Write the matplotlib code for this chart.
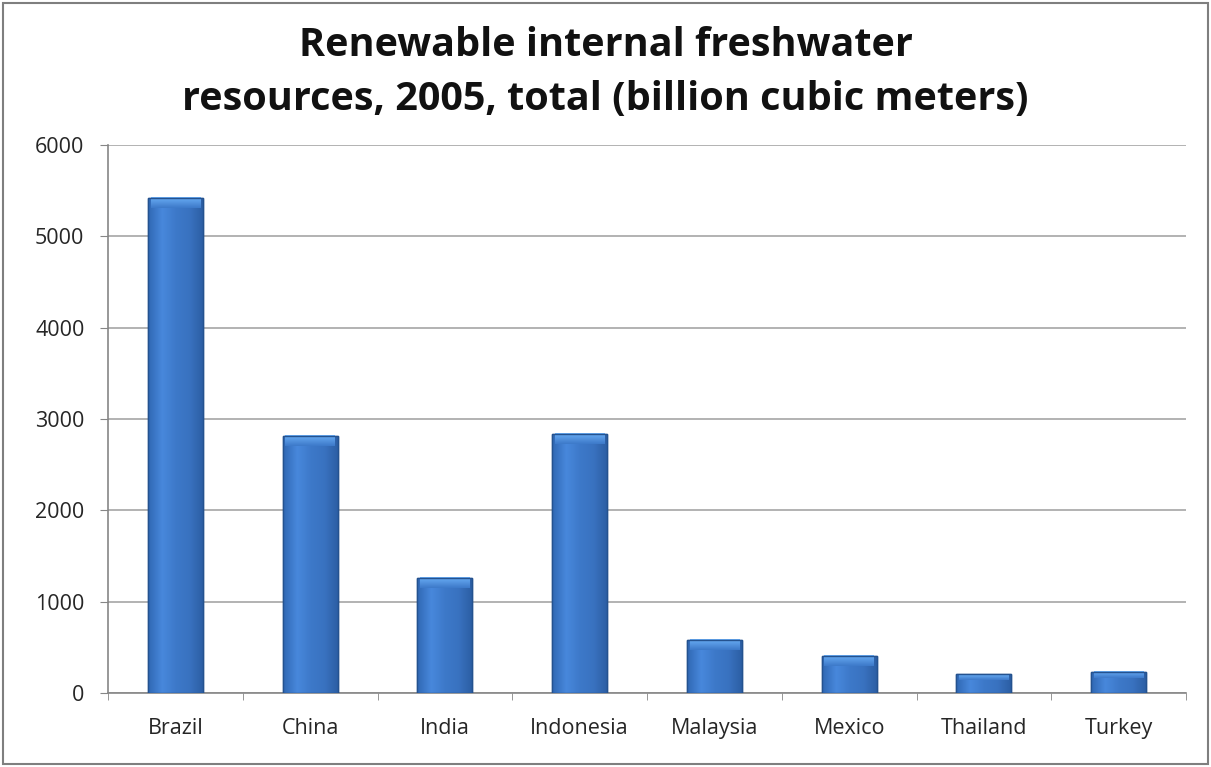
import numpy as np
import matplotlib
matplotlib.use("Agg")
import matplotlib.pyplot as plt
from matplotlib.colors import LinearSegmentedColormap
from matplotlib.patches import Rectangle

# Dane
countries = ["Brazil", "China", "India", "Indonesia", "Malaysia", "Mexico", "Thailand", "Turkey"]
freshwater = [5418, 2812, 1261, 2838, 580, 409, 210, 227]
y_ticks = [0, 1000, 2000, 3000, 4000, 5000, 6000]

plt.rcParams["font.family"] = ["Open Sans", "DejaVu Sans"]

fig = plt.figure(figsize=(12.11, 7.67), dpi=100)
ax = fig.add_axes([108 / 1211, 1 - 693 / 767, (1186 - 108) / 1211, (693 - 145) / 767])

x = np.arange(len(countries))
width = 0.41
bars = ax.bar(x, freshwater, width=width, color="#3A75C4", edgecolor="#24528F",
              linewidth=1.0, zorder=3)

# Gradient w poziomie, jak w Excelu 2007
cmap = LinearSegmentedColormap.from_list(
    "bar", ["#3068B4", "#4888DC", "#3D79C9", "#3972C0", "#2C5EA3"])
grad = np.linspace(0, 1, 64).reshape(1, -1)
cap_cmap = LinearSegmentedColormap.from_list("cap", ["#3D79C9", "#6AAEF5"])
cap_grad = np.linspace(0, 1, 32).reshape(-1, 1)
for b in bars:
    bx, by = b.get_x(), b.get_y()
    bw, bh = b.get_width(), b.get_height()
    im = ax.imshow(grad, cmap=cmap, aspect="auto", extent=[bx, bx + bw, by, by + bh],
                   zorder=3.5, interpolation="bicubic")
    im.set_clip_path(b)
    # jasniejsza gorna krawedz (pionowy gradient)
    cap = min(110, bh * 0.3)
    ax.imshow(cap_grad, cmap=cap_cmap, aspect="auto", origin="lower",
              extent=[bx + bw * 0.05, bx + bw * 0.95, by + bh - cap, by + bh],
              zorder=3.6, interpolation="bicubic")
    ax.add_patch(Rectangle((bx, by), bw, bh, fill=False, edgecolor="#24528F",
                           linewidth=1.0, zorder=3.7))

ax.set_xlim(-0.5, len(countries) - 0.5)
ax.set_ylim(0, 6000)
ax.set_yticks(y_ticks)
ax.set_yticklabels([str(v) for v in y_ticks], fontsize=15.5, color="#262626")
ax.set_xticks(x)
ax.set_xticklabels(countries, fontsize=15.5, color="#262626")
ax.tick_params(axis="x", length=0, pad=18)
ax.set_xticks(np.arange(-0.5, len(countries)), minor=True)
ax.tick_params(axis="x", which="minor", length=5, color="#868686", direction="out")
ax.tick_params(axis="y", length=6, color="#868686", pad=11)

ax.yaxis.grid(True, color="#A6A6A6", linewidth=1.2, zorder=0)
ax.set_axisbelow(True)
for side in ["top", "right"]:
    ax.spines[side].set_visible(False)
for side in ["left", "bottom"]:
    ax.spines[side].set_color("#868686")
    ax.spines[side].set_linewidth(1.2)

fig.text(0.5, 1 - 45 / 767, "Renewable internal freshwater", ha="center", va="center",
         fontsize=28.5, fontweight="bold", color="#111111")
fig.text(0.5, 1 - 100 / 767, "resources, 2005, total (billion cubic meters)", ha="center",
         va="center", fontsize=28.5, fontweight="bold", color="#111111")

# ramka wokol wykresu
fig.add_artist(Rectangle((3 / 1211, 3 / 767), 1 - 6 / 1211, 1 - 6 / 767,
                         transform=fig.transFigure, fill=False, edgecolor="#7F7F7F",
                         linewidth=1.5))

fig.savefig("out.png", dpi=100, facecolor="white")
